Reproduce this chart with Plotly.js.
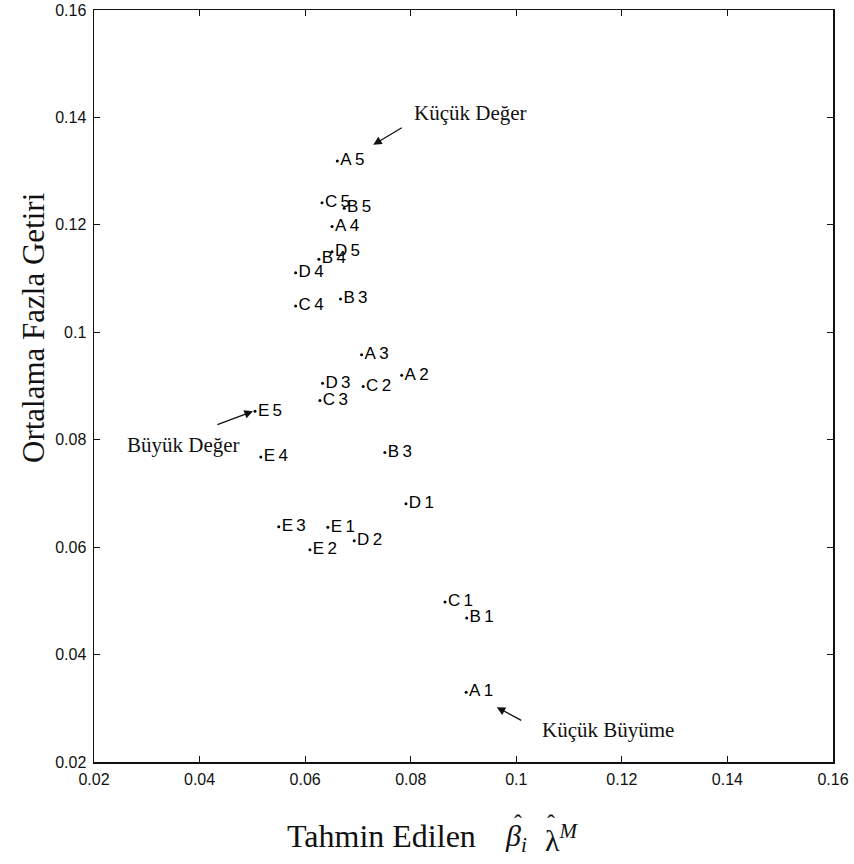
<!DOCTYPE html>
<html>
<head>
<meta charset="utf-8">
<script src="https://cdn.plot.ly/plotly-3.0.1.min.js"></script>
<style>html,body{margin:0;padding:0;background:#fff;}</style>
</head>
<body>
<div id="chart" style="width:854px;height:864px;"></div>
<script>
// Portfolio labels (size quintile letter + book-to-market number)
const portfolios = ["A5","C5","B5","A4","D5","B4","D4","C4","B3",
                    "A3","A2","D3","C2","C3","E5","E4","B3",
                    "D1","E3","E1","D2","E2","C1","B1","A1"];
// Predicted beta_i * lambda^M (x)
const predicted = [0.0661,0.0632,0.0674,0.0651,0.0651,0.0626,0.0582,0.0582,0.0667,
                   0.0707,0.0783,0.0633,0.0710,0.0628,0.0505,0.0516,0.0751,
                   0.0791,0.0550,0.0643,0.0693,0.0609,0.0865,0.0906,0.0905];
// Mean excess return (y)
const meanExcess = [0.1319,0.1241,0.1231,0.1197,0.1150,0.1136,0.1111,0.1049,0.1062,
                    0.0958,0.0920,0.0905,0.0899,0.0873,0.0853,0.0768,0.0776,
                    0.0681,0.0638,0.0637,0.0612,0.0595,0.0498,0.0468,0.0330];
const tickVals = [0.02,0.04,0.06,0.08,0.1,0.12,0.14,0.16];
const tickText = ["0.02","0.04","0.06","0.08","0.1","0.12","0.14","0.16"];

const sans = "Liberation Sans Narrow, Arial Narrow, Liberation Sans, Arial, sans-serif";
const serif = "Liberation Serif, Times New Roman, DejaVu Serif, serif";
const ink = "#111";
const tickFont = {family:sans, size:16, color:ink};

// plot area in pixels (for placing free text)
const L = 94, R = 833, T = 10, B = 762;
const px = v => (v - L) / (R - L);
const py = v => (B - v) / (B - T);

const trace = {
  type:"scatter", mode:"markers+text",
  x: predicted, y: meanExcess,
  text: portfolios.map(p => p[0] + "\u2009" + p[1]),
  textposition:"middle right",
  textfont:{family:sans, size:17, color:"#000"},
  marker:{size:3, color:"#000"},
  cliponaxis:false,
  hoverinfo:"skip"
};

const axisCommon = {
  range:[0.02,0.16], tickmode:"array", tickvals:tickVals, ticktext:tickText,
  ticks:"inside", ticklen:6, tickwidth:1.2, tickcolor:ink,
  showline:true, linecolor:ink, linewidth:1.5, mirror:"ticks",
  showgrid:false, zeroline:false, tickfont:tickFont, fixedrange:true
};

const paperText = (text, x, y, size, extra) => Object.assign({
  text:text, xref:"paper", yref:"paper", x:px(x), y:py(y),
  xanchor:"left", yanchor:"middle", showarrow:false,
  font:{family:serif, size:size, color:ink}
}, extra || {});

const layout = {
  width:854, height:864,
  margin:{l:L, r:854-R, t:T, b:864-B},
  paper_bgcolor:"#fff", plot_bgcolor:"#fff",
  showlegend:false,
  xaxis:Object.assign({}, axisCommon, {ticklabelstandoff:2}),
  yaxis:Object.assign({}, axisCommon, {ticklabelstandoff:3}),
  annotations:[
    // x-axis title: "Tahmin Edilen  β̂_i λ̂^M"
    paperText("Tahmin Edilen", 285, 836, 32),
    paperText("<i>β</i><sub><i>i</i></sub>", 503, 838, 30),
    paperText("ˆ", 512, 823, 24),
    paperText("λ<sup><i>M</i></sup>", 543, 838, 30),
    paperText("ˆ", 545, 823, 24),
    // y-axis title
    paperText("Ortalama Fazla Getiri", 33, 328, 31, {xanchor:"center", textangle:-90}),
    // labelled arrows
    {text:"Küçük Değer", x:0.0802, y:0.1408, xanchor:"left", yanchor:"middle", showarrow:false,
     font:{family:serif, size:21, color:ink}},
    {text:"", x:0.0729, y:0.1349, showarrow:true, ax:30, ay:-18, arrowhead:2, arrowsize:1.3, arrowwidth:1.3, arrowcolor:ink},
    {text:"Büyük Değer", x:0.0259, y:0.0790, xanchor:"left", yanchor:"middle", showarrow:false,
     font:{family:serif, size:21, color:ink}},
    {text:"", x:0.0501, y:0.0853, showarrow:true, ax:-37, ay:14, arrowhead:2, arrowsize:1.3, arrowwidth:1.3, arrowcolor:ink},
    {text:"Küçük Büyüme", x:0.1045, y:0.0260, xanchor:"left", yanchor:"middle", showarrow:false,
     font:{family:serif, size:21, color:ink}},
    {text:"", x:0.0963, y:0.0302, showarrow:true, ax:26, ay:14, arrowhead:2, arrowsize:1.3, arrowwidth:1.3, arrowcolor:ink}
  ]
};

Plotly.newPlot("chart", [trace], layout, {staticPlot:true, displayModeBar:false});
</script>
</body>
</html>
